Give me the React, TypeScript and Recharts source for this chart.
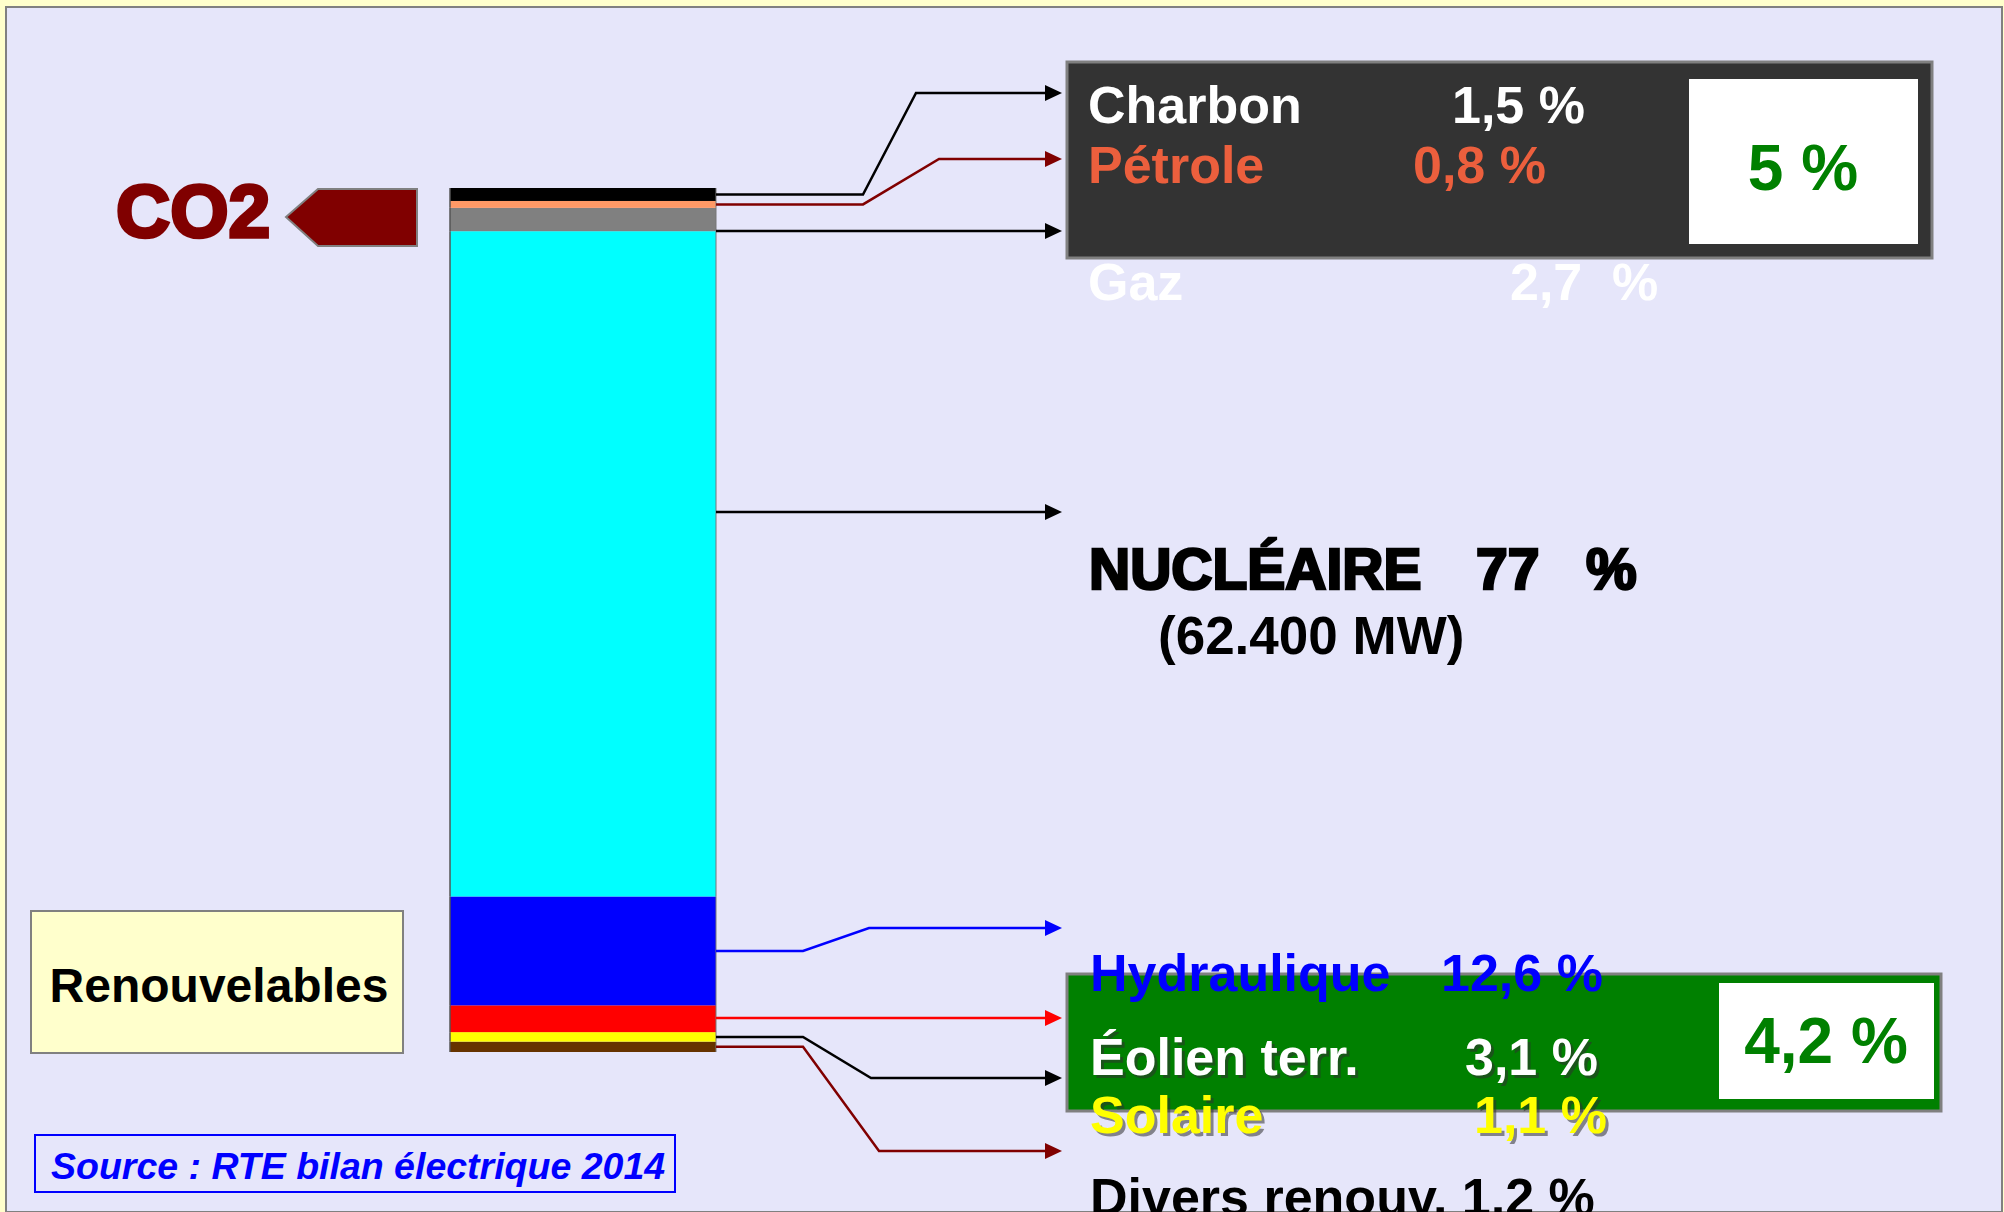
import React from 'react';
import { BarChart, Bar, XAxis, YAxis } from 'recharts';

// production mix 2014, top of the bar to bottom
const sourceKeys = ['charbon', 'petrole', 'gaz', 'nucleaire', 'hydraulique', 'eolien', 'solaire', 'divers'];
const sourceNames = ['Charbon', 'Pétrole', 'Gaz', 'NUCLÉAIRE', 'Hydraulique', 'Éolien terr.', 'Solaire', 'Divers renouv.'];
const shares = [1.5, 0.8, 2.7, 77, 12.6, 3.1, 1.1, 1.2];
const shareLabels = ['1,5 %', '0,8 %', '2,7', '77', '12,6 %', '3,1 %', '1,1 %', '1,2 %'];
const fossilTotal = '5 %';
const renewTotal = '4,2 %';
const nuclearPower = '(62.400 MW)';
const sourceNote = 'Source : RTE bilan électrique 2014';

const segColors = ['#000000', '#FF9966', '#808080', '#00FFFF', '#0000FF', '#FF0000', '#FFFF00', '#663300'];
const lineColors = ['#000000', '#800000', '#000000', '#000000', '#0000FF', '#FF0000', '#000000', '#800000'];

const row: Record<string, string | number> = { name: '2014' };
sourceKeys.forEach((k, i) => {
  row[k] = shares[i];
});
const data = [row];

// connector routes from the bar to the labels
const TIP_X = 1062;
const routes = [
  { bendX: 863, midX: 916, toY: 93 },
  { bendX: 863, midX: 939, toY: 159 },
  { straight: true, toY: 231 },
  { straight: true, toY: 512 },
  { bendX: 803, midX: 869, toY: 928 },
  { straight: true, toY: 1018 },
  { bendX: 803, midX: 871, toY: 1078 },
  { bendX: 803, midX: 879, toY: 1151 },
];

const FONT = '"Liberation Sans", Arial, Helvetica, sans-serif';

function makeShape(i: number) {
  return (p: any) => {
    const top = Math.min(p.y, p.y + p.height);
    const h = Math.abs(p.height);
    const right = p.x + p.width;
    const r: any = routes[i];
    let pts: number[][];
    if (r.straight) {
      const y = Math.max(top, Math.min(top + h, r.toY));
      pts = [[right, y], [TIP_X - 14, y]];
    } else {
      const y0 = top + h / 2;
      pts = [[right, y0], [r.bendX, y0], [r.midX, r.toY], [TIP_X - 14, r.toY]];
    }
    const ay = pts[pts.length - 1][1];
    return (
      <g>
        <rect x={p.x} y={top} width={p.width} height={h} fill={segColors[i]} />
        <line x1={p.x} y1={top} x2={p.x} y2={top + h} stroke="#555555" strokeWidth={1.5} />
        <line x1={right} y1={top} x2={right} y2={top + h} stroke="#777777" strokeWidth={1} />
        <polyline
          points={pts.map((q) => q.join(',')).join(' ')}
          fill="none"
          stroke={lineColors[i]}
          strokeWidth={2.5}
        />
        <polygon
          points={`${TIP_X - 17},${ay - 8} ${TIP_X},${ay} ${TIP_X - 17},${ay + 8}`}
          fill={lineColors[i]}
        />
      </g>
    );
  };
}

function Txt({ x, y, size, fill, children, anchor, shadow, heavy, italic }: any) {
  const common = {
    fontFamily: FONT,
    fontWeight: 'bold' as const,
    fontSize: size,
    fontStyle: italic ? 'italic' : 'normal',
    textAnchor: anchor || 'start',
  };
  return (
    <g>
      {shadow && (
        <text x={x + 3} y={y + 3} {...common} fill="#303030" fillOpacity={0.55}>
          {children}
        </text>
      )}
      <text
        x={x}
        y={y}
        {...common}
        fill={fill}
        stroke={heavy ? fill : 'none'}
        strokeWidth={heavy ? heavy : 0}
      >
        {children}
      </text>
    </g>
  );
}

export default function App() {
  return (
    <div style={{ position: 'absolute', left: 0, top: 0, width: 2004, height: 1212, background: '#FFFFCC', overflow: 'hidden' }}>
      <div
        style={{
          position: 'absolute',
          left: 5,
          top: 6,
          width: 1998,
          height: 1207,
          boxSizing: 'border-box',
          border: '2px solid #808080',
          background: '#E6E6FA',
        }}
      />
      <div style={{ position: 'absolute', left: 0, top: 0 }}>
        <BarChart
          width={2004}
          height={1212}
          data={data}
          margin={{ top: 188, right: 1288, bottom: 160, left: 450 }}
          barCategoryGap={0}
        >
          <XAxis dataKey="name" hide />
          <YAxis hide domain={[0, 100]} />
          {sourceKeys
            .map((k, i) => ({ k, i }))
            .reverse()
            .map(({ k, i }) => (
              <Bar key={k} dataKey={k} stackId="mix" shape={makeShape(i)} isAnimationActive={false} />
            ))}
        </BarChart>
      </div>
      <svg width={2004} height={1212} style={{ position: 'absolute', left: 0, top: 0, pointerEvents: 'none' }}>
        {/* CO2 arrow */}
        <polygon points="286,217 318,189 417,189 417,246 318,246" fill="#800000" stroke="#808080" strokeWidth={2} />
        <Txt x={116} y={237} size={75} fill="#800000" heavy={3.5}>CO2</Txt>

        {/* fossil box */}
        <rect x={1067} y={62} width={865} height={196} fill="#333333" stroke="#808080" strokeWidth={3} />
        <rect x={1689} y={79} width={229} height={165} fill="#FFFFFF" />
        <Txt x={1803} y={190} size={64} fill="#008000" anchor="middle">{fossilTotal}</Txt>
        <Txt x={1088} y={123} size={52} fill="#FFFFFF">{sourceNames[0]}</Txt>
        <Txt x={1452} y={123} size={52} fill="#FFFFFF">{shareLabels[0]}</Txt>
        <Txt x={1088} y={183} size={52} fill="#EC5F3D">{sourceNames[1]}</Txt>
        <Txt x={1413} y={183} size={52} fill="#EC5F3D">{shareLabels[1]}</Txt>
        <Txt x={1088} y={300} size={52} fill="#FFFFFF">{sourceNames[2]}</Txt>
        <Txt x={1510} y={300} size={52} fill="#FFFFFF">{shareLabels[2]}</Txt>
        <Txt x={1612} y={300} size={52} fill="#FFFFFF">%</Txt>

        {/* nuclear */}
        <Txt x={1089} y={589} size={57} fill="#000000" heavy={2.6}>{sourceNames[3]}</Txt>
        <Txt x={1476} y={589} size={57} fill="#000000" heavy={2.6}>{shareLabels[3]}</Txt>
        <Txt x={1586} y={589} size={57} fill="#000000" heavy={2.6}>%</Txt>
        <Txt x={1158} y={654} size={53} fill="#000000">{nuclearPower}</Txt>

        {/* renewables box */}
        <rect x={1067} y={974} width={874} height={137} fill="#008000" stroke="#808080" strokeWidth={3} />
        <rect x={1719} y={983} width={215} height={116} fill="#FFFFFF" />
        <Txt x={1826} y={1063} size={64} fill="#008000" anchor="middle">{renewTotal}</Txt>
        <Txt x={1090} y={991} size={52} fill="#0000FF">{sourceNames[4]}</Txt>
        <Txt x={1441} y={991} size={52} fill="#0000FF">{shareLabels[4]}</Txt>
        <Txt x={1090} y={1075} size={52} fill="#FFFFFF" shadow>{sourceNames[5]}</Txt>
        <Txt x={1465} y={1075} size={52} fill="#FFFFFF" shadow>{shareLabels[5]}</Txt>
        <Txt x={1090} y={1133} size={52} fill="#FFFF00" shadow>{sourceNames[6]}</Txt>
        <Txt x={1474} y={1133} size={52} fill="#FFFF00" shadow>{shareLabels[6]}</Txt>
        <Txt x={1090} y={1215} size={52} fill="#000000">{`${sourceNames[7]} ${shareLabels[7]}`}</Txt>

        {/* left boxes */}
        <rect x={31} y={911} width={372} height={142} fill="#FFFFCC" stroke="#808080" strokeWidth={2} />
        <Txt x={219} y={1002} size={48} fill="#000000" anchor="middle">Renouvelables</Txt>
        <rect x={35} y={1135} width={640} height={57} fill="none" stroke="#0000FF" strokeWidth={2} />
        <Txt x={51} y={1179} size={37.5} fill="#0000FF" italic>{sourceNote}</Txt>
      </svg>
    </div>
  );
}
